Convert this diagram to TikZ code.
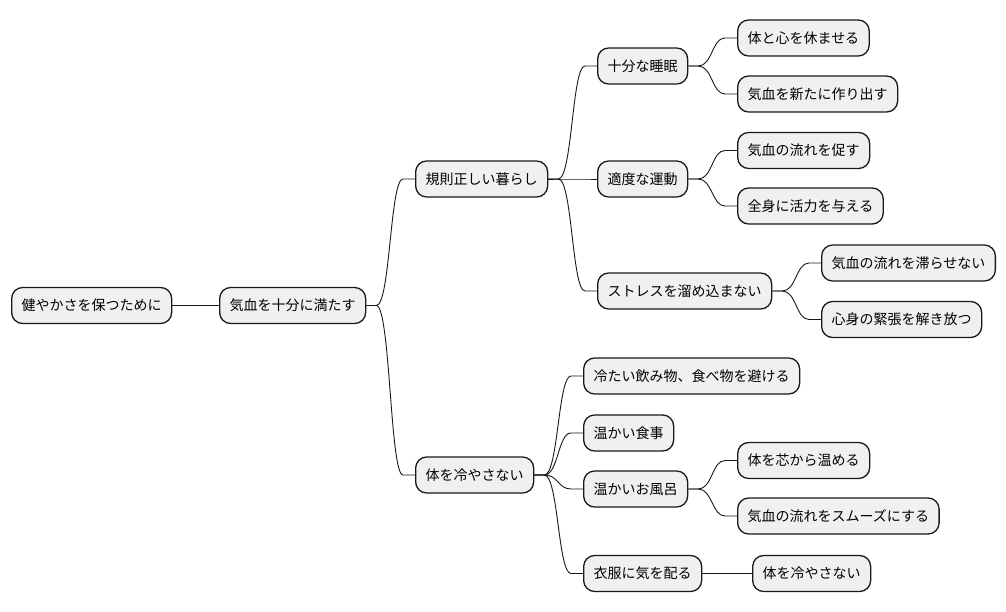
\documentclass[tikz,border=0pt]{standalone}
\usepackage{fontspec}
\newfontfamily\jpfont{Noto Sans CJK JP}
\begin{document}
\begin{tikzpicture}[x=1pt,y=1pt,
  mmnode/.style={draw=black!90, line width=1.3pt, fill=black!6, rounded corners=11pt,
    minimum height=36pt, inner xsep=10pt, inner ysep=0pt, anchor=west,
    font=\jpfont\fontsize{14}{16}\selectfont, text=black},
  mmline/.style={draw=black!90, line width=0.9pt}]
\useasboundingbox (0,0) rectangle (1006,-612);
\newcommand\mmconn[2]{\draw[mmline] (#1.east) -- ([xshift=10pt]#1.east) .. controls ([xshift=24pt]#1.east) and ([xshift=-25pt]#2.west) .. ([xshift=-12pt]#2.west) -- (#2.west);}
\node[mmnode] (root) at (11,-305.5) {健やかさを保つために};
\node[mmnode] (a) at (219,-305.5) {気血を十分に満たす};
\node[mmnode] (b) at (415,-179) {規則正しい暮らし};
\node[mmnode] (b1) at (597,-66) {十分な睡眠};
\node[mmnode] (b11) at (737,-38) {体と心を休ませる};
\node[mmnode] (b12) at (737,-94) {気血を新たに作り出す};
\node[mmnode] (b2) at (597,-179) {適度な運動};
\node[mmnode] (b21) at (737,-150.5) {気血の流れを促す};
\node[mmnode] (b22) at (737,-206) {全身に活力を与える};
\node[mmnode] (b3) at (597,-291) {ストレスを溜め込まない};
\node[mmnode] (b31) at (821,-263) {気血の流れを滞らせない};
\node[mmnode] (b32) at (821,-319.5) {心身の緊張を解き放つ};
\node[mmnode] (c) at (415,-475) {体を冷やさない};
\node[mmnode] (c1) at (583,-376) {冷たい飲み物、食べ物を避ける};
\node[mmnode] (c2) at (583,-433) {温かい食事};
\node[mmnode] (c3) at (583,-489) {温かいお風呂};
\node[mmnode] (c31) at (737,-460.5) {体を芯から温める};
\node[mmnode] (c32) at (737,-516) {気血の流れをスムーズにする};
\node[mmnode] (c4) at (583,-573.5) {衣服に気を配る};
\node[mmnode] (c41) at (752,-573.5) {体を冷やさない};
\draw[mmline] (root.east) -- (a.west);
\mmconn{a}{b}
\mmconn{a}{c}
\mmconn{b}{b1}
\mmconn{b}{b2}
\mmconn{b}{b3}
\mmconn{b1}{b11}
\mmconn{b1}{b12}
\mmconn{b2}{b21}
\mmconn{b2}{b22}
\mmconn{b3}{b31}
\mmconn{b3}{b32}
\mmconn{c}{c1}
\mmconn{c}{c2}
\mmconn{c}{c3}
\mmconn{c}{c4}
\mmconn{c3}{c31}
\mmconn{c3}{c32}
\draw[mmline] (c4.east) -- (c41.west);
\end{tikzpicture}
\end{document}
